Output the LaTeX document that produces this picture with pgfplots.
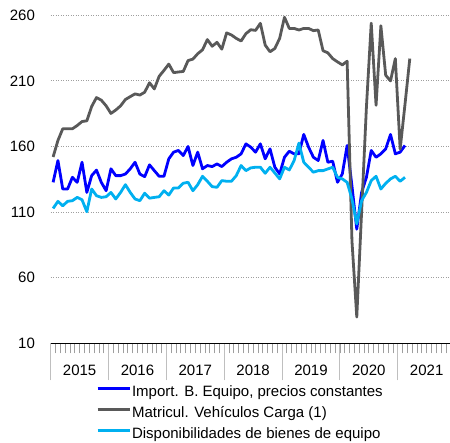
\documentclass[border=0pt]{standalone}
\usepackage{pgfplots}
\pgfplotsset{compat=1.18}
\usepackage{pgfplotstable}
\usepackage{fontspec}
\setmainfont{Liberation Sans}
\definecolor{impblue}{RGB}{0,0,255}
\definecolor{vehgray}{RGB}{89,89,89}
\definecolor{dispblue}{RGB}{0,176,240}

% m = month index from Jan 2015
\pgfplotstableread{
m imp veh disp
0 132.7 152.0 112.8
1 149.3 164.6 118.2
2 127.6 173.5 114.8
3 127.6 173.5 118.2
4 136.5 173.5 118.7
5 132.7 176.0 121.2
6 148.0 179.0 119.4
7 125.0 179.6 110.3
8 137.8 190.5 127.6
9 142.0 197.3 122.5
10 132.7 195.3 121.2
11 126.3 191.0 121.7
12 143.0 185.2 125.0
13 137.8 187.8 120.0
14 137.8 191.0 125.0
15 139.0 195.8 130.9
16 143.0 198.0 125.0
17 148.0 200.1 120.0
18 139.0 199.2 118.7
19 137.0 201.4 124.4
20 146.0 208.6 120.6
21 141.6 203.9 121.2
22 137.3 213.5 121.7
23 137.3 218.0 126.3
24 150.6 222.8 123.0
25 155.7 216.3 128.4
26 157.0 216.8 128.4
27 153.1 217.2 132.0
28 160.0 225.5 132.7
29 145.5 226.6 126.3
30 155.7 230.7 130.9
31 143.0 233.7 137.3
32 145.5 241.5 133.5
33 144.7 236.4 129.4
34 146.7 239.4 128.9
35 144.7 234.2 134.0
36 148.0 246.6 133.5
37 150.6 245.0 133.5
38 151.8 242.4 137.8
39 154.4 240.4 145.5
40 162.0 246.0 141.6
41 159.5 249.0 143.7
42 155.7 248.5 144.2
43 162.0 253.9 144.2
44 150.6 237.3 139.6
45 158.2 232.2 144.2
46 144.2 234.7 139.8
47 139.1 242.4 135.3
48 151.8 258.5 144.2
49 156.4 250.0 142.1
50 154.4 250.0 149.3
51 154.4 248.8 162.6
52 169.2 250.0 148.0
53 159.5 250.0 144.2
54 151.8 248.3 140.4
55 149.3 248.8 141.6
56 164.6 233.0 141.6
57 148.0 231.4 142.9
58 148.8 227.0 144.2
59 132.7 224.5 136.5
60 139.1 222.2 135.3
61 160.8 225.0 132.7
62 130.0 88.0 120.0
63 97.0 30.0 101.0
64 125.0 110.0 118.7
65 136.5 190.0 125.0
66 157.0 254.0 134.0
67 151.8 191.4 137.3
68 154.4 252.0 127.6
69 158.2 214.3 131.9
70 169.2 210.0 135.3
71 154.4 227.0 137.3
72 155.7 158.0 133.5
73 160.8 192.0 136.5
74 nan 227.0 nan
}\datos

\begin{document}
\begin{tikzpicture}
\begin{axis}[
  scale only axis,
  width=404.9pt, height=328pt,
  xmin=0, xmax=84, ymin=10, ymax=260,
  axis x line*=bottom, axis y line*=left,
  axis line style={-},
  y axis line style={draw=none},
  x axis line style={black, line width=1pt},
  ytick={10,60,...,260},
  ytick style={draw=none},
  ymajorgrids,
  grid style={gray!75, line width=0.8pt, dash pattern=on 1pt off 1.5pt},
  xtick={0,12,...,84},
  xticklabels={2015,2016,2017,2018,2019,2020,2021},
  x tick label as interval,
  minor xtick={0,...,84},
  tick align=outside,
  major x tick style={gray!50, line width=1pt, /pgfplots/major tick length=37pt},
  minor x tick style={gray!75, line width=0.8pt, /pgfplots/minor tick length=10pt},
  /pgf/number format/assume math mode=true,
  tick label style={font=\fontsize{15}{18}\selectfont},
  xticklabel style={anchor=base, yshift=-28pt},
  yticklabel style={xshift=-8pt},
  legend cell align=left,
  legend style={at={(axis description cs:0.112,-0.124)}, anchor=north west,
    draw=none, fill=none, inner sep=0pt, row sep=5pt,
    font=\fontsize{15}{18}\selectfont,
    nodes={inner sep=1pt, text height=11pt, text depth=3pt}},
  legend image code/.code={\draw[#1] (0pt,4pt) -- (32pt,4pt);},
]
\addplot[impblue, line width=2.8pt, line join=round] table[x expr=\thisrow{m}+0.5, y=imp] {\datos};
\addlegendentry{Import. B. Equipo, precios constantes}
\addplot[vehgray, line width=2.8pt, line join=round] table[x expr=\thisrow{m}+0.5, y=veh] {\datos};
\addlegendentry{Matricul. Vehículos Carga (1)}
\addplot[dispblue, line width=2.8pt, line join=round] table[x expr=\thisrow{m}+0.5, y=disp] {\datos};
\addlegendentry{Disponibilidades de bienes de equipo}
\end{axis}
\pgfresetboundingbox
\path[use as bounding box] ([xshift=-50.7pt,yshift=-98.7pt]current axis.south west) rectangle ++(450pt,442pt);
\end{tikzpicture}
\end{document}
